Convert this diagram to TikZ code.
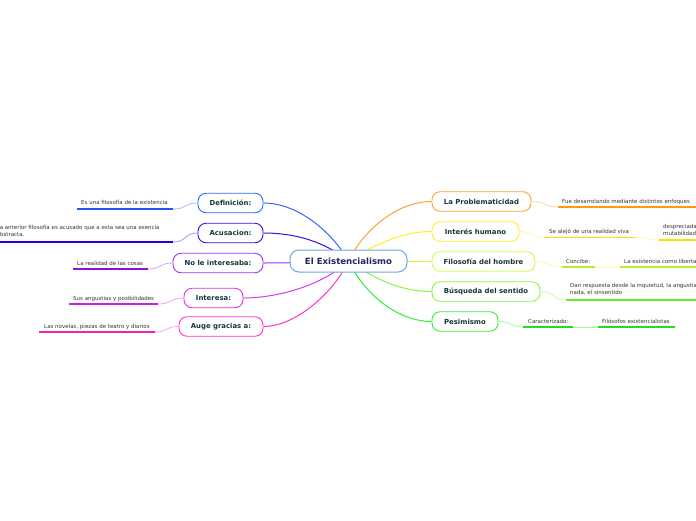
\documentclass[tikz,border=0pt]{standalone}
\usepackage{fontspec}
\setmainfont{DejaVu Sans}
\usetikzlibrary{backgrounds}
\definecolor{nodetxt}{HTML}{17363A}
\definecolor{centtxt}{HTML}{1B2A5A}
\definecolor{subtxt}{HTML}{333333}
\definecolor{centbd}{HTML}{6FA8DC}
\definecolor{cDef}{HTML}{3366FF}
\definecolor{cAcu}{HTML}{3311EE}
\definecolor{cNoi}{HTML}{9933FF}
\definecolor{cInt}{HTML}{DD33EE}
\definecolor{cAug}{HTML}{FF33CC}
\definecolor{cPro}{HTML}{FFA033}
\definecolor{cHum}{HTML}{FFEE22}
\definecolor{cFil}{HTML}{CCFF44}
\definecolor{cBus}{HTML}{88F544}
\definecolor{cPes}{HTML}{33EE33}
\definecolor{uDef}{HTML}{2255EE}
\definecolor{uAcu}{HTML}{2200EE}
\definecolor{uNoi}{HTML}{8811DD}
\definecolor{uInt}{HTML}{CC22DD}
\definecolor{uAug}{HTML}{EE22BB}
\definecolor{uPro}{HTML}{FF9911}
\definecolor{uHum}{HTML}{F5E400}
\definecolor{uFil}{HTML}{B8EE30}
\definecolor{uBus}{HTML}{66EE22}
\definecolor{uPes}{HTML}{22DD22}
\begin{document}
\begin{tikzpicture}[x=1pt,y=-1pt,
  mainbox/.style={draw=#1, line width=0.9pt, rounded corners=8pt, fill=white,
    minimum height=19.5pt, inner xsep=2pt, text=nodetxt,
    font=\fontsize{6.9}{8}\selectfont\bfseries},
  centbox/.style={draw=centbd, line width=1pt, rounded corners=9pt, fill=white,
    minimum height=22pt, minimum width=117pt, text=centtxt,
    font=\fontsize{8.6}{10}\selectfont\bfseries},
  subtext/.style={inner sep=0pt, text=subtxt, align=left,
    font=\fontsize{5.5}{7}\selectfont},
  uline/.style={draw=#1, line width=1.3pt},
  mainlink/.style={draw=#1, line width=1pt},
  sublink/.style={draw=#1!45, line width=0.8pt}
]
\useasboundingbox (0,0) rectangle (696,520);
\clip (0,0) rectangle (696,520);

% ---------- centre ----------
\node[centbox] (c) at (348.5,261) {El Existencialismo};

% ---------- left main nodes ----------
\node[mainbox=cDef, minimum width=65pt] (def) at (230.5,203) {Definición:};
\node[mainbox=cAcu, minimum width=65pt] (acu) at (230.5,233) {Acusacion:};
\node[mainbox=cNoi, minimum width=90pt] (noi) at (218,263) {No le interesaba:};
\node[mainbox=cInt, minimum width=59pt] (int) at (213.5,298) {Interesa:};
\node[mainbox=cAug, minimum width=84pt] (aug) at (221,326.5) {Auge gracias a:};

% ---------- right main nodes ----------
\node[mainbox=cPro, minimum width=99pt]  (pro) at (481.5,201.5) {La Problematicidad};
\node[mainbox=cHum, minimum width=87pt]  (hum) at (475.5,231.5) {Interés humano};
\node[mainbox=cFil, minimum width=103pt] (fil) at (483.5,261.5) {Filosofía del hombre};
\node[mainbox=cBus, minimum width=108pt] (bus) at (486,291.5) {Búsqueda del sentido};
\node[mainbox=cPes, minimum width=66pt]  (pes) at (465,321.5) {Pesimismo};

% ---------- sub texts (left) ----------
\node[subtext, anchor=base west] (s1) at (81,204) {Es una filosofía de la existencia};
\coordinate (s1a) at (77,209); \coordinate (s1b) at (173,209);
\node[subtext, anchor=north west] (s2) at (-3.5,224.8) {La anterior filosofía es acusado que a esta sea una esencia\\abstracta.};
\coordinate (s2a) at (0,242); \coordinate (s2b) at (173,242);
\node[subtext, anchor=base west] (s3) at (77,265) {La realidad de las cosas};
\coordinate (s3a) at (73,269); \coordinate (s3b) at (148,269);
\node[subtext, anchor=base west] (s4) at (73,300) {Sus angustias y posibilidades};
\coordinate (s4a) at (69,304); \coordinate (s4b) at (158,304);
\node[subtext, anchor=base west] (s5) at (44,328) {Las novelas, piezas de teatro y diarios};
\coordinate (s5a) at (39,332); \coordinate (s5b) at (155,332);

% ---------- sub texts (right) ----------
\node[subtext, anchor=base west] (r1) at (562,203) {Fue desarrolando mediante distintos enfoques};
\coordinate (r1a) at (558,207); \coordinate (r1b) at (696,207);
\node[subtext, anchor=base west] (r2) at (549,233) {Se alejó de una realidad viva};
\coordinate (r2a) at (545,237.5); \coordinate (r2b) at (635,237.5);
\node[subtext, anchor=north west] (r3) at (663,224) {despreciada\\mutabilidad};
\coordinate (r3a) at (659,240); \coordinate (r3b) at (696,240);
\node[subtext, anchor=base west] (r4) at (566,263) {Concibe:};
\coordinate (r4a) at (562,267); \coordinate (r4b) at (595,267);
\node[subtext, anchor=base west] (r5) at (624,263) {La existencia como libertad};
\coordinate (r5a) at (620,267); \coordinate (r5b) at (696,267);
\node[subtext, anchor=north west] (r6) at (570,283) {Dan respuesta desde la inquietud, la angustia, la\\nada, el sinsentido};
\coordinate (r6a) at (566,300); \coordinate (r6b) at (696,300);
\node[subtext, anchor=base west] (r7) at (528,323) {Caracterizado:};
\coordinate (r7a) at (523,327); \coordinate (r7b) at (573,327);
\node[subtext, anchor=base west] (r8) at (602,323) {Filósofos existencialistas};
\coordinate (r8a) at (598,327); \coordinate (r8b) at (675,327);

\begin{scope}[on background layer]
% main links
\draw[mainlink=cDef] (c.center) .. controls (332,232) and (298,203) .. (def.east);
\draw[mainlink=cAcu] (c.center) .. controls (325,242) and (296,233) .. (acu.east);
\draw[mainlink=cNoi] (c.center) .. controls (320,262) and (290,263) .. (noi.east);
\draw[mainlink=cInt] (c.center) .. controls (322,286) and (276,298) .. (int.east);
\draw[mainlink=cAug] (c.center) .. controls (334,292) and (296,326.5) .. (aug.east);
\draw[mainlink=cPro] (c.center) .. controls (366,226) and (400,201.5) .. (pro.west);
\draw[mainlink=cHum] (c.center) .. controls (376,244) and (402,231.5) .. (hum.west);
\draw[mainlink=cFil] (c.center) .. controls (380,261.5) and (410,261.5) .. (fil.west);
\draw[mainlink=cBus] (c.center) .. controls (376,280) and (402,291.5) .. (bus.west);
\draw[mainlink=cPes] (c.center) .. controls (366,297) and (400,321.5) .. (pes.west);
% sub links
\draw[sublink=cDef] (def.west) .. controls +(-14,0) and +(14,0) .. (s1b);
\draw[sublink=cAcu] (acu.west) .. controls +(-14,0) and +(14,0) .. (s2b);
\draw[sublink=cNoi] (noi.west) .. controls +(-14,0) and +(14,0) .. (s3b);
\draw[sublink=cInt] (int.west) .. controls +(-14,0) and +(14,0) .. (s4b);
\draw[sublink=cAug] (aug.west) .. controls +(-14,0) and +(14,0) .. (s5b);
\draw[sublink=cPro] (pro.east) .. controls +(14,0) and +(-14,0) .. (r1a);
\draw[sublink=cHum] (hum.east) .. controls +(14,0) and +(-14,0) .. (r2a);
\draw[sublink=cHum] (r2b) .. controls +(12,0) and +(-12,0) .. (r3a);
\draw[sublink=cFil] (fil.east) .. controls +(14,0) and +(-14,0) .. (r4a);
\draw[sublink=cFil] (r4b) .. controls +(12,0) and +(-12,0) .. (r5a);
\draw[sublink=cBus] (bus.east) .. controls +(14,0) and +(-14,0) .. (r6a);
\draw[sublink=cPes] (pes.east) .. controls +(14,0) and +(-14,0) .. (r7a);
\draw[sublink=cPes] (r7b) .. controls +(12,0) and +(-12,0) .. (r8a);
% underlines
\draw[uline=uDef] (s1a) -- (s1b);
\draw[uline=uAcu] (s2a) -- (s2b);
\draw[uline=uNoi] (s3a) -- (s3b);
\draw[uline=uInt] (s4a) -- (s4b);
\draw[uline=uAug] (s5a) -- (s5b);
\draw[uline=uPro] (r1a) -- (r1b);
\draw[uline=uHum] (r2a) -- (r2b);
\draw[uline=uHum] (r3a) -- (r3b);
\draw[uline=uFil] (r4a) -- (r4b);
\draw[uline=uFil] (r5a) -- (r5b);
\draw[uline=uBus] (r6a) -- (r6b);
\draw[uline=uPes] (r7a) -- (r7b);
\draw[uline=uPes] (r8a) -- (r8b);
\end{scope}
\end{tikzpicture}
\end{document}
